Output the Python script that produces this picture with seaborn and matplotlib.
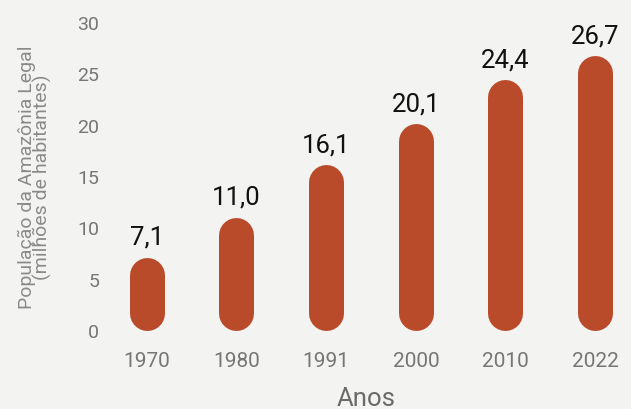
import numpy as np
import pandas as pd
import matplotlib
matplotlib.use("Agg")
import matplotlib.pyplot as plt
import seaborn as sns

# data
anos = ["1970", "1980", "1991", "2000", "2010", "2022"]
populacao = [7.1, 11.0, 16.1, 20.1, 24.4, 26.7]
rotulos = ["7,1", "11,0", "16,1", "20,1", "24,4", "26,7"]

df = pd.DataFrame({"Anos": anos, "Pop": populacao})

sns.set_theme(style="white")
plt.rcParams["font.family"] = ["Roboto", "DejaVu Sans"]

bg = "#f3f3f1"
cor = "#b94a2a"

fig = plt.figure(figsize=(6.31, 4.10), dpi=100, facecolor=bg)
ax = fig.add_axes([102 / 631, (410 - 331) / 410, 529 / 631, (331 - 23) / 410])
ax.set_facecolor(bg)

sns.barplot(data=df, x="Anos", y="Pop", color=cor, width=0.39, ax=ax,
            saturation=1)

ax.set_xlim(-0.5, 5.4)
ax.set_ylim(0, 30)
ax.set_yticks(range(0, 31, 5))

# turn the bars into capsules (round-capped thick lines)
fig.canvas.draw()
px_x = ax.transData.transform((1, 0))[0] - ax.transData.transform((0, 0))[0]
px_y = ax.transData.transform((0, 1))[1] - ax.transData.transform((0, 0))[1]
for p in list(ax.patches):
    xc = p.get_x() + p.get_width() / 2
    h = p.get_height()
    w_px = p.get_width() * px_x
    r = (w_px / 2) / px_y
    p.remove()
    ax.plot([xc, xc], [r, h - r], color=cor, lw=w_px * 72 / 100,
            solid_capstyle="round", clip_on=False)

for i, (v, t) in enumerate(zip(populacao, rotulos)):
    ax.annotate(t, (i, v), xytext=(0, 6), textcoords="offset points",
                ha="center", va="bottom", fontsize=18.5, color="#111111")

sns.despine(ax=ax, left=True, bottom=True)
ax.tick_params(axis="both", length=0, colors="#767676")
ax.tick_params(axis="x", pad=15, labelsize=15)
ax.tick_params(axis="y", pad=2, labelsize=14)

ax.set_xlabel("Anos", fontsize=18.5, color="#6a6a6a", labelpad=12)
ax.set_ylabel("População da Amazônia Legal\n(milhões de habitantes)",
              fontsize=14, color="#8a8a8a", labelpad=18, linespacing=0.8)

fig.savefig("out.png", dpi=100, facecolor=bg)
